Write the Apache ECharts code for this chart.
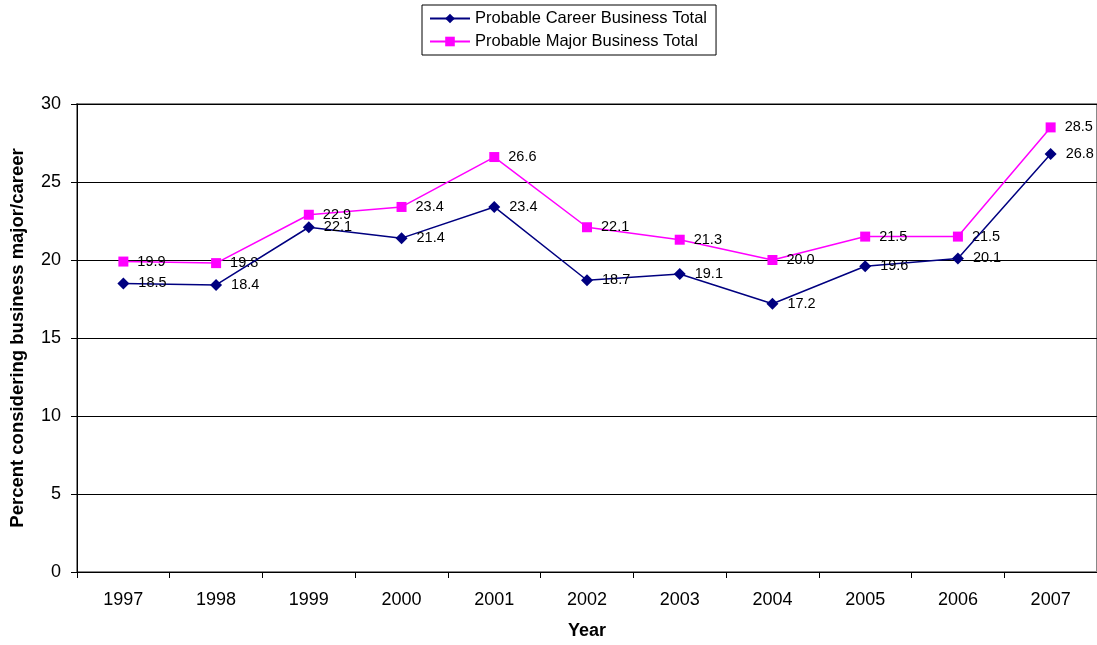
<!DOCTYPE html>
<html><head><meta charset="utf-8">
<script src="https://cdn.jsdelivr.net/npm/echarts@6/dist/echarts.min.js"></script>
<style>html,body{margin:0;padding:0;background:#fff}#c{width:1097px;height:645px}</style>
</head><body><div id="c"></div>
<script>
const years = ['1997','1998','1999','2000','2001','2002','2003','2004','2005','2006','2007'];
const careerTotal = [18.5,18.4,22.1,21.4,23.4,18.7,19.1,17.2,19.6,20.1,26.8];
const majorTotal = [19.9,19.8,22.9,23.4,26.6,22.1,21.3,20.0,21.5,21.5,28.5];
const yTicks = [0,5,10,15,20,25,30];
const seriesNames = ['Probable Career Business Total','Probable Major Business Total'];

const chart = echarts.init(document.getElementById('c'));
const font = 'Arial, "Liberation Sans", sans-serif';
const lbl = {show:true, position:'right', distance:9, color:'#000', fontSize:14.5, fontFamily:font, formatter:p=>p.value.toFixed(1)};
chart.setOption({
  animation:false,
  textStyle:{fontFamily:font},
  legend:{
    top:5, left:422, orient:'vertical',
    data:seriesNames,
    borderColor:'#000', borderWidth:1, borderRadius:0,
    padding:[5,9,5,7], itemGap:6, itemWidth:40, itemHeight:12,
    textStyle:{fontSize:16.5, color:'#000', fontFamily:font}
  },
  grid:{left:76, right:0, top:104, bottom:70, show:true, borderColor:'#888', borderWidth:2},
  xAxis:{
    type:'category', data:years, boundaryGap:true,
    name:'Year', nameLocation:'middle', nameGap:50,
    nameTextStyle:{fontSize:18, fontWeight:'bold', color:'#000', fontFamily:font},
    axisLine:{lineStyle:{color:'#000', width:1}},
    axisTick:{show:true, alignWithLabel:false, length:6, lineStyle:{color:'#000'}},
    axisLabel:{fontSize:18, color:'#000', margin:19, fontFamily:font}
  },
  yAxis:{
    type:'value', min:0, max:30, interval:5,
    name:'Percent considering business major/career', nameLocation:'middle', nameGap:50,
    nameTextStyle:{fontSize:18.5, fontWeight:'bold', color:'#000', fontFamily:font},
    axisLine:{show:true, lineStyle:{color:'#000', width:1}},
    axisTick:{show:true, length:6, lineStyle:{color:'#000'}},
    axisLabel:{fontSize:18, color:'#000', margin:16, fontFamily:font},
    splitLine:{show:true, lineStyle:{color:'#000', width:1}}
  },
  series:[
    {name:seriesNames[0], type:'line', data:careerTotal, symbol:'diamond', symbolSize:12,
     color:'#000080', lineStyle:{color:'#000080', width:1.5}, itemStyle:{color:'#000080'}, label:lbl, z:3},
    {name:seriesNames[1], type:'line', data:majorTotal, symbol:'rect', symbolSize:10,
     color:'#FF00FF', lineStyle:{color:'#FF00FF', width:1.5}, itemStyle:{color:'#FF00FF'}, label:lbl, z:2}
  ]
});
</script></body></html>
